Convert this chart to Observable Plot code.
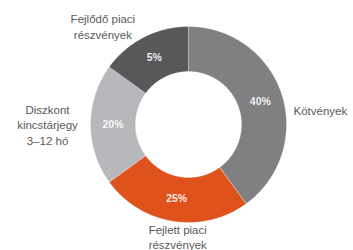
<!DOCTYPE html>
<html>
<head>
<meta charset="utf-8">
<script src="https://cdn.jsdelivr.net/npm/d3@7"></script>
<script src="https://cdn.jsdelivr.net/npm/@observablehq/plot@0.6"></script>
<style>
  html, body { margin: 0; padding: 0; background: #fff; }
  #chart { width: 353px; height: 250px; overflow: hidden; }
</style>
</head>
<body>
<div id="chart"></div>
<script>
// ---- data ----
const categories = ["Kötvények", "Fejlett piaci részvények", "Diszkont kincstárjegy 3–12 hó", "Fejlődő piaci részvények"];
const categoryLines = ["Kötvények", "Fejlett piaci\nrészvények", "Diszkont\nkincstárjegy\n3–12 hó", "Fejlődő piaci\nrészvények"];
const shares = [40, 25, 20, 15];
const valueLabels = ["40%", "25%", "20%", "5%"];
const colors = ["#808083", "#e0521c", "#b8b8bc", "#58585b"];

// ---- layout (styling) ----
const W = 353, H = 250;
const cx = 188, cy = 124;      // centre in px
const R = 98, r0 = 53;          // outer / inner radius
const labelPlace = [            // angular offset (deg) from slice middle, radius, anchor
  {dAng: 10, rad: 106, anchor: "start"},
  {dAng: -3.5, rad: 112.5, anchor: "middle"},
  {dAng: 0, rad: 141, anchor: "middle"},
  {dAng: -14, rad: 130.5, anchor: "middle"}
];

const pie = d3.pie().sort(null).value(d => d)(shares);
const pt = (a, rad) => ({x: rad * Math.sin(a), y: -rad * Math.cos(a)});

const slices = pie.map((p, i) => {
  const pts = [];
  const n = Math.max(2, Math.ceil((p.endAngle - p.startAngle) / 0.01));
  for (let k = 0; k <= n; k++) pts.push(pt(p.startAngle + (p.endAngle - p.startAngle) * k / n, R));
  for (let k = n; k >= 0; k--) pts.push(pt(p.startAngle + (p.endAngle - p.startAngle) * k / n, r0));
  pts.push(pts[0]);
  return {points: pts, color: colors[i]};
});

const centroids = pie.map((p, i) => {
  const m = (p.startAngle + p.endAngle) / 2;
  return {...pt(m, (R + r0) / 2), text: valueLabels[i]};
});

const catLabels = pie.map((p, i) => {
  const m = (p.startAngle + p.endAngle) / 2 + labelPlace[i].dAng * Math.PI / 180;
  return {...pt(m, labelPlace[i].rad), text: categoryLines[i], anchor: labelPlace[i].anchor};
});

const font = "'Liberation Sans', Arial, Helvetica, sans-serif";

const chart = Plot.plot({
  width: W,
  height: H,
  margin: 0,
  x: {domain: [-cx, W - cx], axis: null},
  y: {domain: [-cy, H - cy], reverse: true, axis: null},
  style: {background: "#fff", fontFamily: font},
  marks: [
    ...slices.map(s => Plot.line(s.points, {x: "x", y: "y", fill: s.color, stroke: "#ffffff", strokeWidth: 0.6, strokeOpacity: 0.5, curve: "linear"})),
    Plot.text(centroids, {x: "x", y: "y", text: "text", fill: "#ffffff", fillOpacity: 0.9, fontSize: 10.5, fontWeight: "bold"}),
    ...catLabels.map(l => Plot.text([l], {x: "x", y: "y", text: "text", textAnchor: l.anchor, fill: "#5a5a5a", fontSize: 11.5, lineHeight: 1.34}))
  ]
});

document.getElementById("chart").appendChild(chart);
</script>
</body>
</html>
